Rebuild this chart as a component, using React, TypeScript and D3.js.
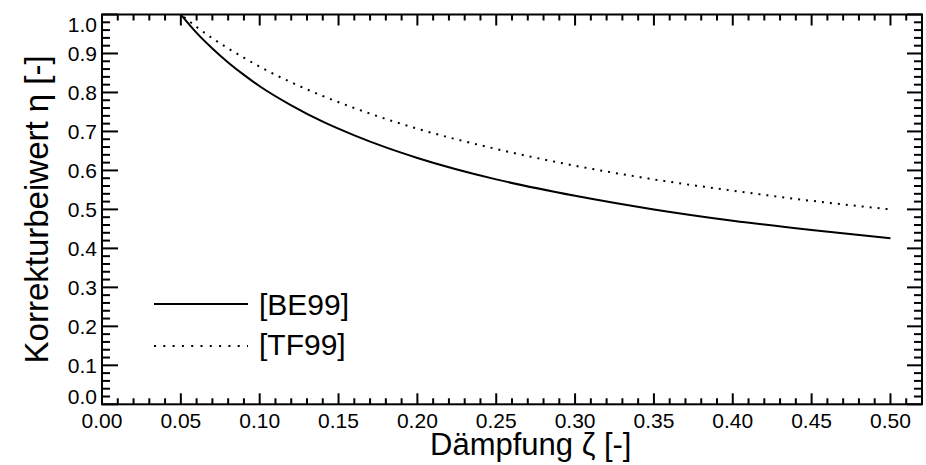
import React from "react";
import * as d3 from "d3";

const zeta = [0.05, 0.06, 0.07, 0.08, 0.09, 0.10, 0.12, 0.14, 0.16, 0.18, 0.20, 0.25, 0.30, 0.35, 0.40, 0.45, 0.50];
const be99 = [1.000, 0.953, 0.913, 0.877, 0.845, 0.816, 0.767, 0.725, 0.690, 0.659, 0.632, 0.577, 0.535, 0.500, 0.471, 0.447, 0.426];
const tf99 = [1.000, 0.968, 0.939, 0.913, 0.889, 0.866, 0.826, 0.791, 0.760, 0.732, 0.707, 0.655, 0.612, 0.577, 0.548, 0.522, 0.500];
const xTickLabels = ["0.00", "0.05", "0.10", "0.15", "0.20", "0.25", "0.30", "0.35", "0.40", "0.45", "0.50"];
const yTickLabels = ["0.0", "0.1", "0.2", "0.3", "0.4", "0.5", "0.6", "0.7", "0.8", "0.9", "1.0"];
const legendLabels = ["[BE99]", "[TF99]"];
const xTitle = "Dämpfung ζ [-]";
const yTitle = "Korrekturbeiwert η [-]";

const FONT = "'Liberation Sans', Arial, Helvetica, sans-serif";

export default function App() {
  const W = 926, H = 465;
  const L = 102, R = 922, T = 14.5, B = 404.3;
  const x = d3.scaleLinear().domain([0, 0.52]).range([L, R]);
  const y = d3.scaleLinear().domain([0, 1]).range([B, T]);

  const line = d3
    .line<number>()
    .x((_, i) => x(zeta[i]))
    .y((d) => y(d))
    .curve(d3.curveMonotoneX);

  const xMinor = d3.range(1, 52).map((i) => i / 100).filter((v) => Math.round(v * 100) % 5 !== 0);
  const xMajor = xTickLabels.map((s) => +s);
  const yMinor = d3.range(1, 50).map((i) => i / 50).filter((v) => Math.round(v * 50) % 5 !== 0);
  const yMajor = yTickLabels.map((s) => +s);

  return (
    <svg width={W} height={H} style={{ position: "absolute", left: 0, top: 0, background: "#fff" }}>
      <rect x={0} y={0} width={W} height={H} fill="#fff" />
      <g stroke="#000" strokeWidth={2}>
        {xMajor.map((v) => (
          <g key={"xM" + v}>
            <line x1={x(v)} x2={x(v)} y1={B} y2={B - 11} />
            <line x1={x(v)} x2={x(v)} y1={T} y2={T + 11} />
          </g>
        ))}
        {xMinor.map((v) => (
          <g key={"xm" + v}>
            <line x1={x(v)} x2={x(v)} y1={B} y2={B - 6} />
            <line x1={x(v)} x2={x(v)} y1={T} y2={T + 6} />
          </g>
        ))}
        {yMajor.map((v) => (
          <g key={"yM" + v}>
            <line x1={L} x2={L + 16} y1={y(v)} y2={y(v)} />
            <line x1={R} x2={R - 15} y1={y(v)} y2={y(v)} />
          </g>
        ))}
        {yMinor.map((v) => (
          <g key={"ym" + v}>
            <line x1={L} x2={L + 8} y1={y(v)} y2={y(v)} />
            <line x1={R} x2={R - 8} y1={y(v)} y2={y(v)} />
          </g>
        ))}
        <rect x={L} y={T} width={R - L} height={B - T} fill="none" />
      </g>

      <g fontFamily={FONT} fontSize={21} fill="#000">
        {xTickLabels.map((s) => (
          <text key={"xl" + s} x={x(+s)} y={428} textAnchor="middle">{s}</text>
        ))}
        {yTickLabels.map((s) => {
          const v = +s;
          let by = y(v) + 7.5;
          if (v === 0) by = B;
          if (v === 1) by = T + 17;
          return (
            <text key={"yl" + s} x={97} y={by} textAnchor="end">{s}</text>
          );
        })}
      </g>

      <path d={line(be99) || ""} fill="none" stroke="#000" strokeWidth={2} />
      <path d={line(tf99) || ""} fill="none" stroke="#000" strokeWidth={2} strokeDasharray="2 6" strokeDashoffset={-4} />

      <line x1={154} x2={248} y1={304} y2={304} stroke="#000" strokeWidth={2} />
      <line x1={154} x2={248} y1={346} y2={346} stroke="#000" strokeWidth={2} strokeDasharray="2 7.3" />
      <g fontFamily={FONT} fontSize={30} fill="#000">
        <text x={259} y={315}>{legendLabels[0]}</text>
        <text x={259} y={355}>{legendLabels[1]}</text>
      </g>

      <text x={430} y={455} fontFamily={FONT} fontSize={31} fill="#000">{xTitle}</text>
      <text
        transform={`translate(48, ${(T + B) / 2}) rotate(-90)`}
        textAnchor="middle"
        fontFamily={FONT}
        fontSize={33}
        fill="#000"
      >
        {yTitle}
      </text>
    </svg>
  );
}
